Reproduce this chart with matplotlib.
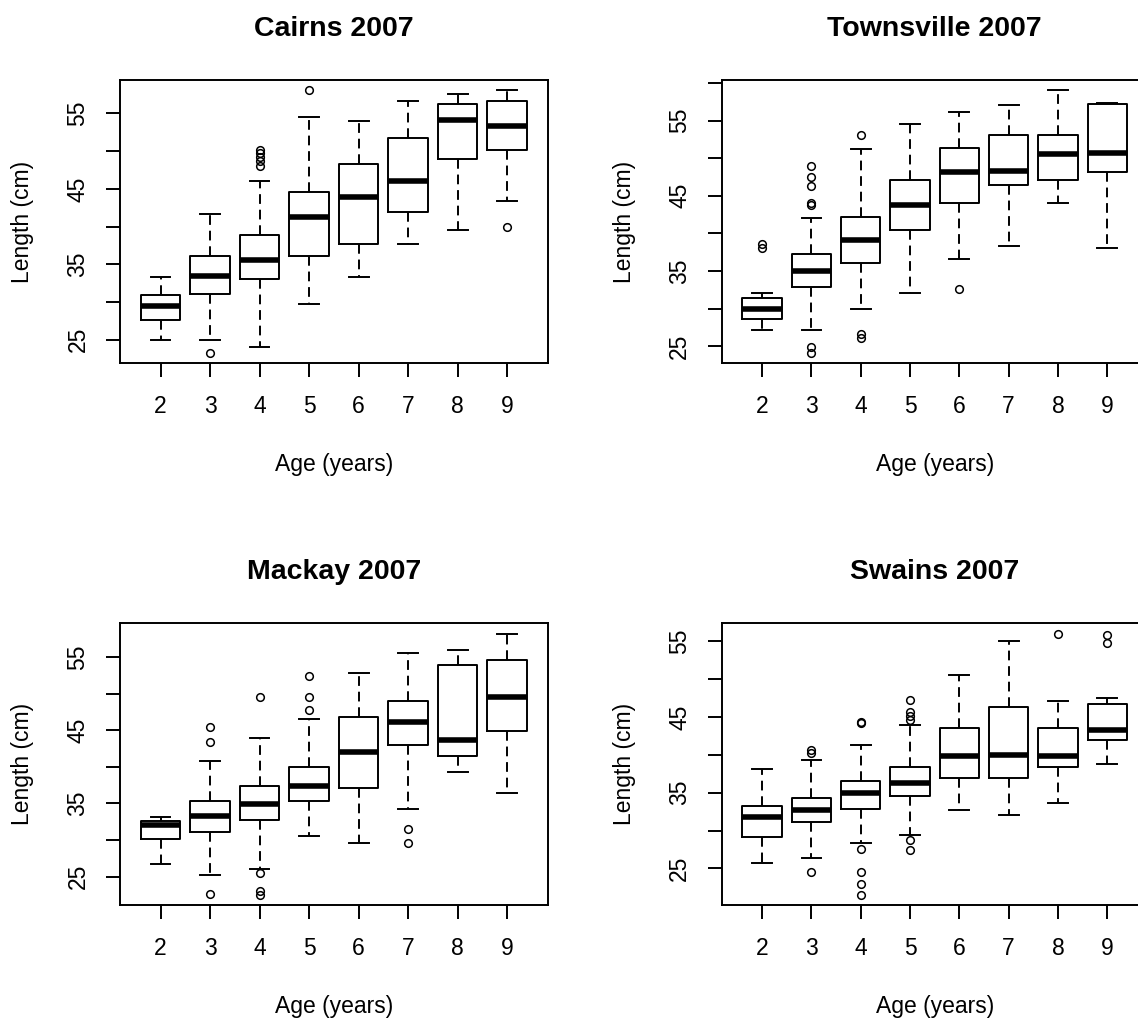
import numpy as np
import matplotlib
matplotlib.use('Agg')
from matplotlib import pyplot as plt

plt.rcParams['font.family'] = ['Liberation Sans', 'DejaVu Sans']

ages = [2, 3, 4, 5, 6, 7, 8, 9]
sites = ['Cairns 2007', 'Townsville 2007', 'Mackay 2007', 'Swains 2007']

# box stats (cm): low whisker, Q1, median, Q3, high whisker
cairns_lo = [25.0, 25.0, 24.05, 29.7, 33.3, 37.7, 39.6, 43.4]
cairns_q1 = [27.6, 31.1, 33.0, 36.05, 37.7, 41.9, 48.9, 50.1]
cairns_med = [29.5, 33.5, 35.6, 41.3, 43.9, 46.0, 54.1, 53.3]
cairns_q3 = [30.9, 36.1, 38.9, 44.6, 48.3, 51.7, 56.2, 56.6]
cairns_hi = [33.3, 41.7, 46.0, 54.5, 54.0, 56.6, 57.6, 58.05]
cairns_out = [[], [23.3], [50.2, 49.8, 49.2, 48.7, 48.1], [58.05], [], [], [], [39.9]]

townsville_lo = [27.1, 27.1, 30.0, 32.1, 36.65, 38.35, 44.05, 38.1]
townsville_q1 = [28.6, 32.9, 36.0, 40.4, 44.0, 46.4, 47.1, 48.1]
townsville_med = [30.0, 35.0, 39.1, 43.8, 48.1, 48.35, 50.5, 50.7]
townsville_q3 = [31.4, 37.2, 42.2, 47.1, 51.4, 53.1, 53.1, 57.2]
townsville_hi = [32.1, 42.1, 51.2, 54.5, 56.2, 57.1, 59.0, 57.4]
townsville_out = [[38.6, 38.1], [49.0, 47.5, 46.25, 44.0, 43.8, 24.9, 24.15],
                  [53.1, 26.6, 26.1], [], [32.6], [], [], []]

mackay_lo = [26.7, 25.2, 26.0, 30.55, 29.6, 34.2, 39.3, 36.4]
mackay_q1 = [30.1, 31.1, 32.8, 35.4, 37.1, 42.95, 41.5, 44.9]
mackay_med = [32.1, 33.3, 34.95, 37.4, 42.0, 46.1, 43.7, 49.5]
mackay_q3 = [32.55, 35.4, 37.4, 40.0, 46.8, 49.05, 53.9, 54.6]
mackay_hi = [33.2, 40.8, 44.0, 46.6, 52.9, 55.5, 56.0, 58.2]
mackay_out = [[], [45.4, 43.4, 22.6], [49.5, 25.5, 23.0, 22.5],
              [52.4, 49.5, 47.8], [], [31.5, 29.6], [], []]

swains_lo = [25.7, 26.4, 28.3, 29.4, 32.7, 32.0, 33.7, 38.8]
swains_q1 = [29.2, 31.1, 32.9, 34.6, 36.95, 36.95, 38.35, 41.9]
swains_med = [31.8, 32.7, 34.9, 36.3, 39.8, 40.0, 39.8, 43.3]
swains_q3 = [33.2, 34.35, 36.5, 38.35, 43.5, 46.3, 43.5, 46.75]
swains_hi = [38.1, 39.3, 41.3, 44.0, 50.6, 55.0, 47.05, 47.45]
swains_out = [[], [40.7, 40.2, 24.5], [44.4, 44.2, 27.6, 24.5, 23.0, 21.5],
              [47.3, 45.65, 45.1, 44.55, 28.7, 27.4], [], [], [56.0], [55.9, 54.8]]

data = [(cairns_lo, cairns_q1, cairns_med, cairns_q3, cairns_hi, cairns_out),
        (townsville_lo, townsville_q1, townsville_med, townsville_q3, townsville_hi, townsville_out),
        (mackay_lo, mackay_q1, mackay_med, mackay_q3, mackay_hi, mackay_out),
        (swains_lo, swains_q1, swains_med, swains_q3, swains_hi, swains_out)]

W, H = 1138, 1021
fig = plt.figure(figsize=(W/100., H/100.), dpi=100)
# panel frames in pixels (x0, y0, x1, y1); right column runs off the edge as in the original
boxes_px = [(120, 80, 547.7, 363), (721.7, 80, 1147.7, 363),
            (120, 623.3, 547.7, 905.3), (721.7, 623.3, 1147.7, 905.3)]

lw = 1.4
for k, (title, d) in enumerate(zip(sites, data)):
    x0, y0, x1, y1 = boxes_px[k]
    ax = fig.add_axes([x0/W, 1-y1/H, (x1-x0)/W, (y1-y0)/H])
    lo, q1, med, q3, hi, out = d
    stats = [dict(whislo=lo[i], q1=q1[i], med=med[i], q3=q3[i], whishi=hi[i],
                  fliers=out[i]) for i in range(len(ages))]
    ax.bxp(stats, positions=ages, widths=0.8, showfliers=True,
           boxprops=dict(color='k', lw=lw),
           medianprops=dict(color='k', lw=4, solid_capstyle='butt'),
           whiskerprops=dict(color='k', lw=lw, linestyle=(0, (5, 3))),
           capprops=dict(color='k', lw=lw),
           flierprops=dict(marker='o', markersize=5.5, markerfacecolor='none',
                           markeredgecolor='k', markeredgewidth=1.1))
    # R style limits: 4% padding around data and around 0.5..n+0.5
    allv = np.concatenate([lo, hi] + [np.array(o) for o in out if len(o)])
    r = allv.max() - allv.min()
    ax.set_ylim(allv.min() - 0.04*r, allv.max() + 0.04*r)
    ax.set_xlim(ages[0] - 0.5 - 0.32, ages[-1] + 0.5 + 0.32)
    yt = np.arange(25, 61, 5)
    yt = yt[(yt >= ax.get_ylim()[0]) & (yt <= ax.get_ylim()[1])]
    ax.set_yticks(yt)
    ax.set_yticklabels([str(v) if v % 10 == 5 else '' for v in yt],
                       rotation=90, va='center')
    ax.set_xticks(ages)
    ax.set_xticklabels([str(a) for a in ages])
    ax.tick_params(axis='both', length=10, width=lw, labelsize=16.5, color='k')
    ax.tick_params(axis='x', pad=13)
    ax.tick_params(axis='y', pad=12)
    for s in ax.spines.values():
        s.set_linewidth(lw)
    ax.set_title(title, fontsize=20.5, fontweight='bold', pad=32)
    ax.set_xlabel('Age (years)', fontsize=16.5, labelpad=25)
    ax.set_ylabel('Length (cm)', fontsize=16.5, labelpad=23)

plt.savefig('out.png', dpi=100)
